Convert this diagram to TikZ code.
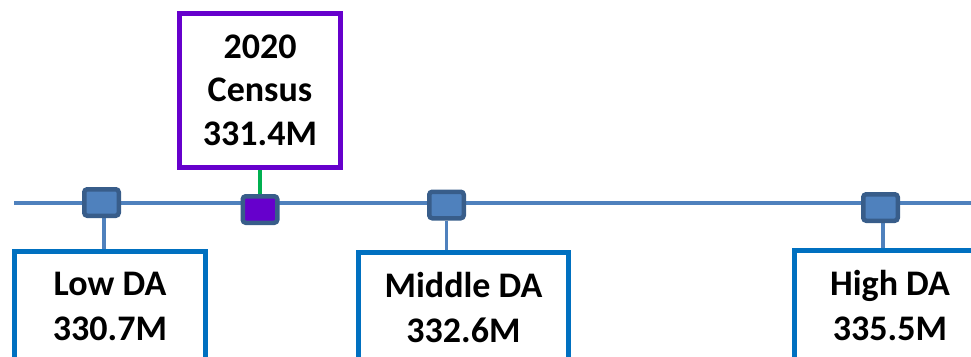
\documentclass[tikz,border=0pt]{standalone}
\usepackage{fontspec}
\setmainfont{Carlito}
\usetikzlibrary{backgrounds}
\definecolor{tline}{HTML}{4F81BD}
\definecolor{mborder}{HTML}{385D8A}
\definecolor{boxblue}{HTML}{0070C0}
\definecolor{cpurple}{HTML}{6600CC}
\definecolor{cgreen}{HTML}{00B050}
\tikzset{
  marker/.style={draw=mborder, line width=4.5pt, fill=tline, rounded corners=3pt,
    minimum width=34.5pt, minimum height=26.5pt, inner sep=0pt},
  cmarker/.style={marker, fill=cpurple},
  dabox/.style={draw=boxblue, line width=5pt, fill=white, align=center,
    font=\bfseries\fontsize{36}{45}\selectfont, minimum width=191pt,
    minimum height=110pt, anchor=north, inner sep=0pt},
  censusbox/.style={draw=cpurple, line width=5pt, fill=white, align=center,
    font=\bfseries\fontsize{36}{43.5}\selectfont, minimum width=161pt,
    minimum height=154pt, inner sep=0pt},
  tl/.style={draw=tline, line width=4.5pt},
  conn/.style={draw=tline, line width=3.5pt},
  gconn/.style={draw=cgreen, line width=3.5pt}
}
\begin{document}
\begin{tikzpicture}[x=1pt,y=-1pt]
\useasboundingbox (0,0) rectangle (971,356);
\clip (0,0) rectangle (971,356);
\coordinate (tls) at (14,203);
\coordinate (tle) at (975,203);
\node[marker] (lowm) at (101.5,202.5) {};
\node[cmarker] (cenm) at (260,209.5) {};
\node[marker] (midm) at (446.5,205) {};
\node[marker] (highm) at (880.5,207.5) {};
\node[dabox] (lowbox) at (110,249) {Low DA\\330.7M};
\node[dabox, minimum width=210pt] (midbox) at (463.5,250) {Middle DA\\332.6M};
\node[dabox] (highbox) at (890,248) {High DA\\335.5M};
\node[censusbox] (cenbox) at (260,90) {2020\\Census\\331.4M};
\begin{pgfonlayer}{background}
\draw[tl] (tls) -- (tle);
\draw[conn] ([xshift=2.5pt]lowm.south) -- ([xshift=2.5pt]lowm.south |- lowbox.north);
\draw[conn] (midm.south) -- (midm.south |- midbox.north);
\draw[conn] ([xshift=2.5pt]highm.south) -- ([xshift=2.5pt]highm.south |- highbox.north);
\draw[gconn] (cenm.north) -- (cenm.north |- cenbox.south);
\end{pgfonlayer}
\end{tikzpicture}
\end{document}
